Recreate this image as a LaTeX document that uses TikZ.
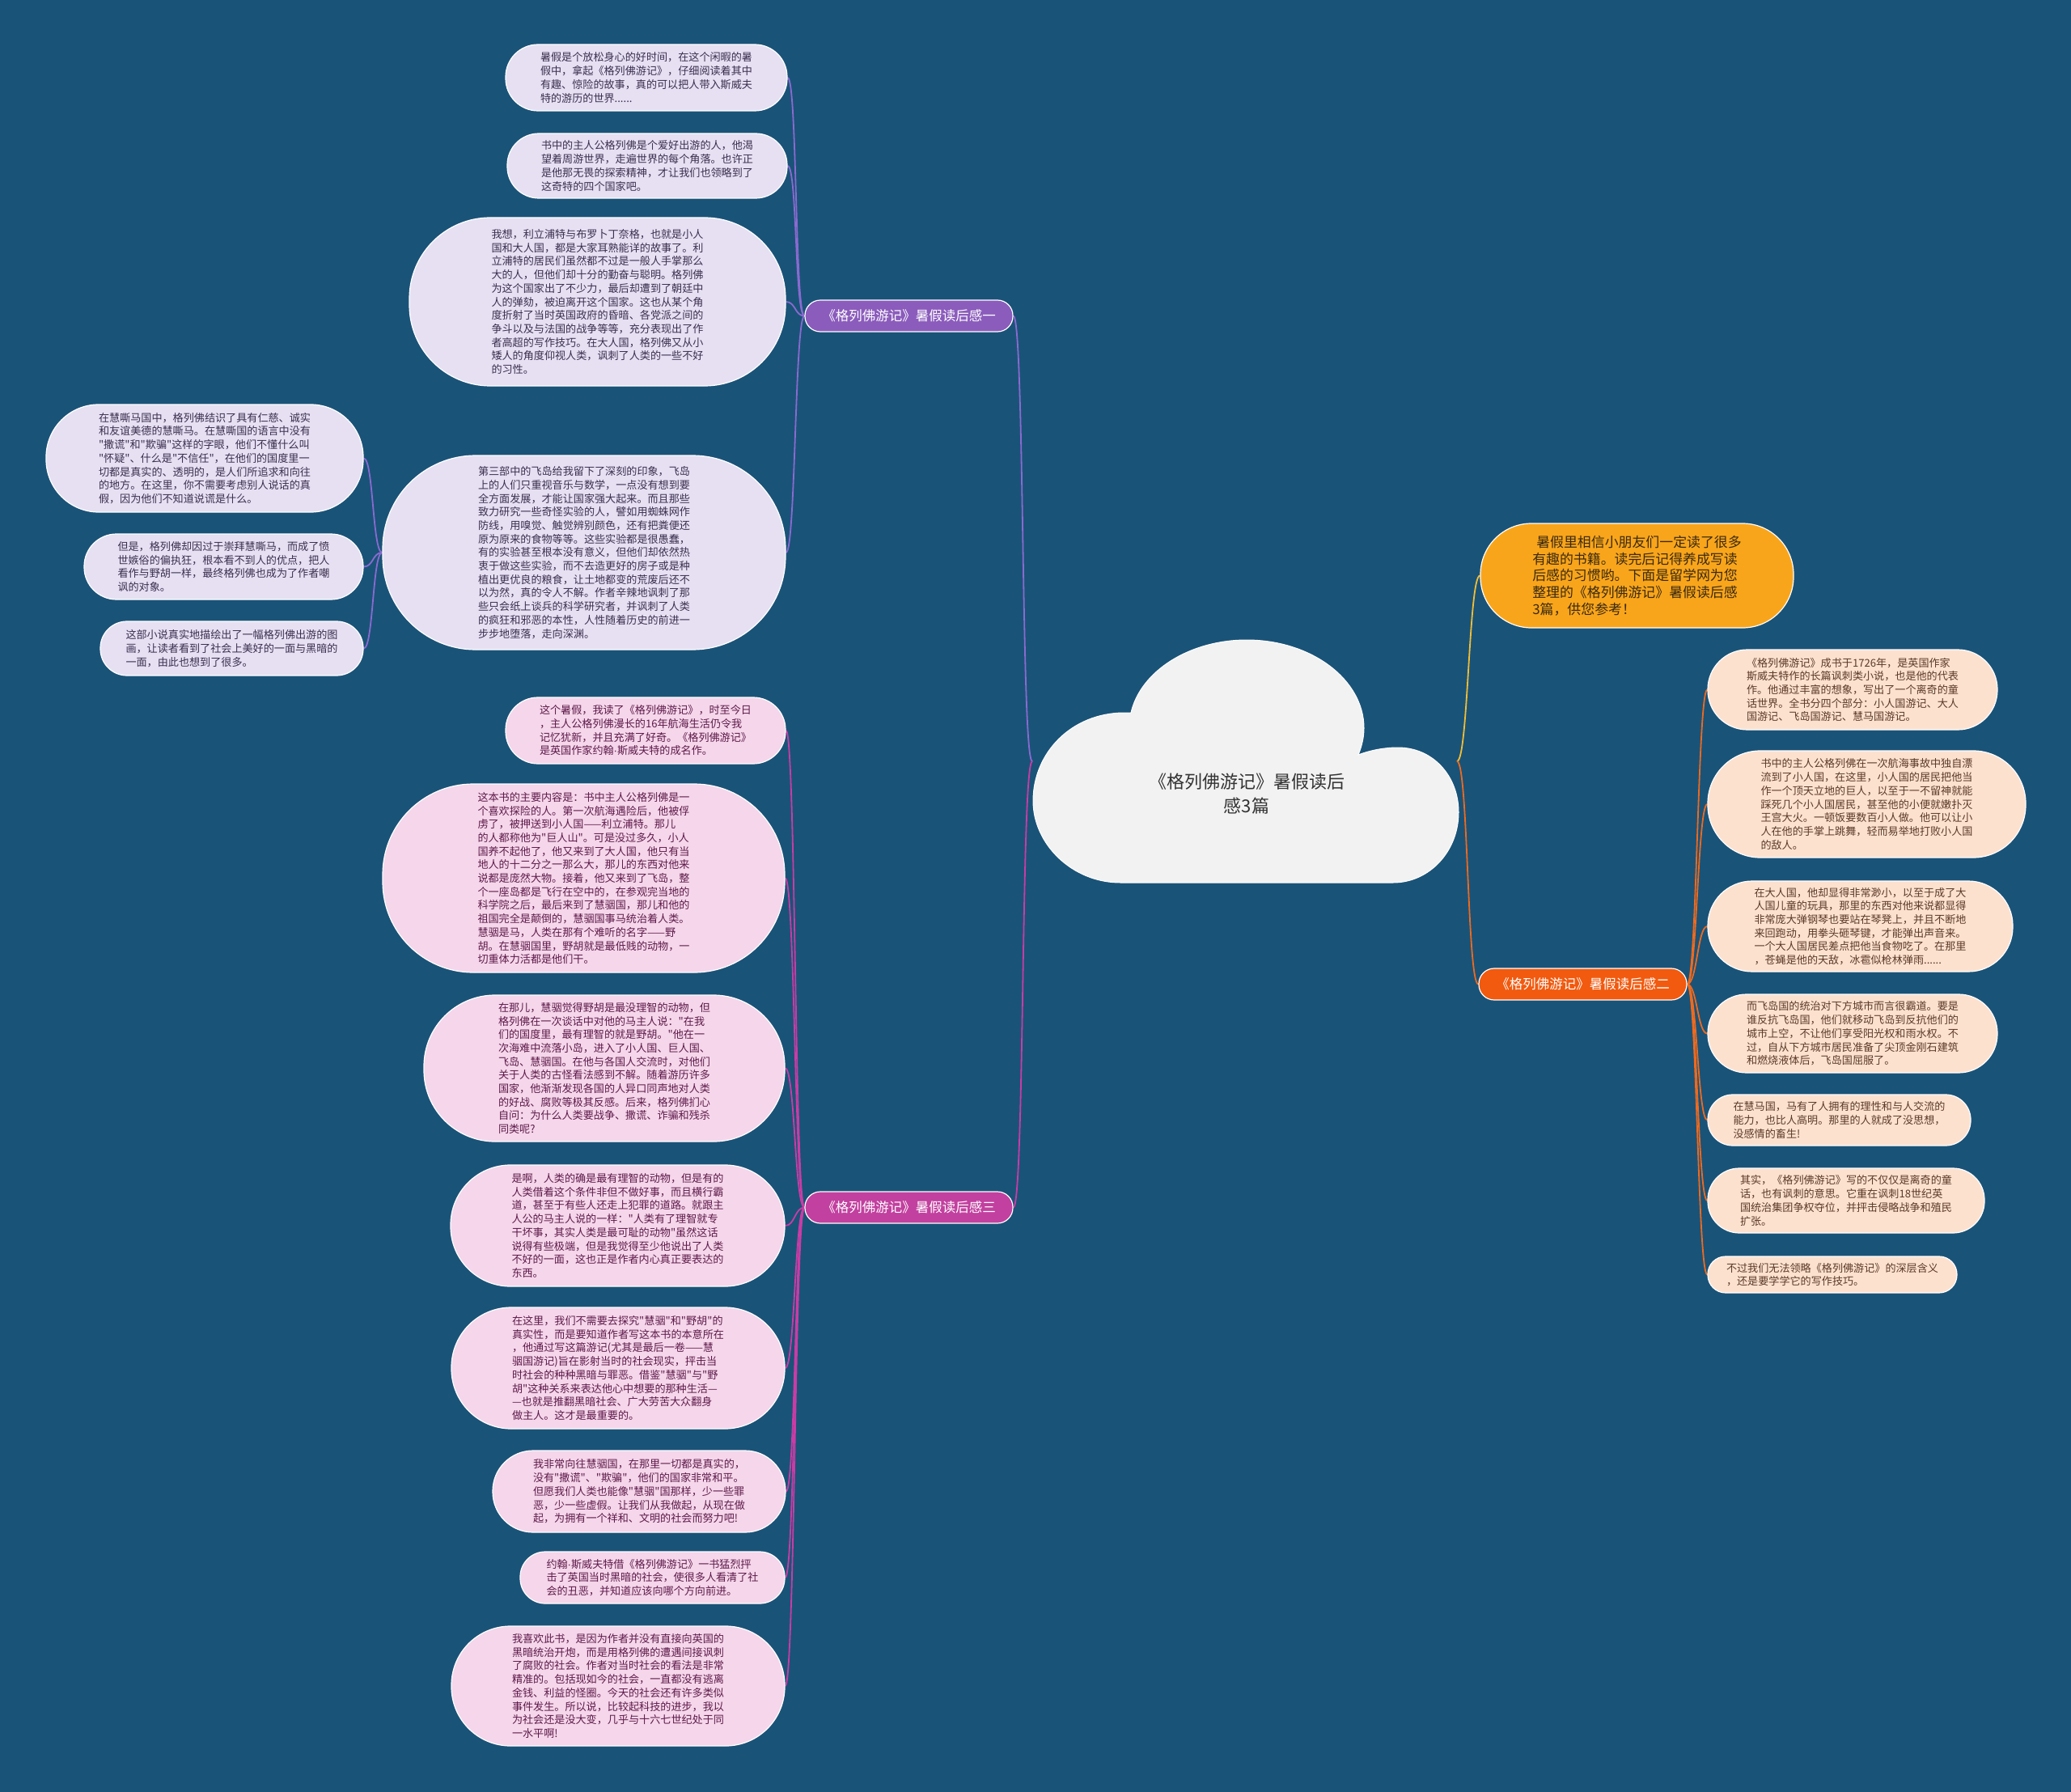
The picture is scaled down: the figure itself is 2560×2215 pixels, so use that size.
\documentclass[tikz,border=0pt]{standalone}
\usepackage{fontspec}
\setmainfont{Noto Sans CJK SC}[Ligatures=TeXOff]
\newfontfamily\latinf{Liberation Sans}
\newcommand\mdot{{\latinf ·}}
\usetikzlibrary{calc}
\definecolor{bgc}{HTML}{1A5378}
\definecolor{fillP}{HTML}{E6E0F2}
\definecolor{fillM}{HTML}{F5D6EA}
\definecolor{fillO}{HTML}{FDE1CF}
\definecolor{txtP}{HTML}{3B2F4F}
\definecolor{txtM}{HTML}{5E1A4A}
\definecolor{txtO}{HTML}{5B3A29}
\definecolor{brP}{HTML}{8B5CBC}
\definecolor{brM}{HTML}{C2409F}
\definecolor{brO}{HTML}{F15A0F}
\definecolor{introc}{HTML}{F9A51B}
\definecolor{introtxt}{HTML}{3A2A10}
\definecolor{lnP}{HTML}{8A6AD0}
\definecolor{lnM}{HTML}{C93CA6}
\definecolor{lnO}{HTML}{EE6A1E}
\definecolor{lnY}{HTML}{F2BE35}
\definecolor{cloudc}{HTML}{F2F2F2}
\definecolor{roottxt}{HTML}{333333}
\pgfdeclarelayer{back}
\pgfsetlayers{back,main}
\newcommand\mmleaf[8]{\node[#1,minimum width=#5,minimum height=#6,rounded corners=#7] (#2) at (#3,#4) {#8};}
\begin{document}
\begin{tikzpicture}[x=1pt,y=-1pt,
 leaf/.style={draw=white,line width=1.2,align=left,inner sep=0pt,font=\fontsize{13.1}{16.7}\selectfont},
 leafP/.style={leaf,fill=fillP,text=txtP},
 leafM/.style={leaf,fill=fillM,text=txtM},
 leafO/.style={leaf,fill=fillO,text=txtO},
 branch/.style={draw=white,line width=1.2,text=white,inner sep=0pt,minimum width=257,minimum height=39,rounded corners=19,font=\fontsize{16.5}{20}\selectfont},
 conn/.style={line width=1.8},
]
\begin{pgfonlayer}{back}
\fill[bgc] (0,0) rectangle (2560,2215);
\end{pgfonlayer}
\useasboundingbox (0,0) rectangle (2560,2215);

% cloud
\filldraw[fill=cloudc,draw=white,line width=1]
 (1385,1091) .. controls (1325,1091) and (1277,1043) .. (1277,990)
 .. controls (1277,930) and (1325,881) .. (1390,881)
 -- (1398,881)
 .. controls (1410,829) and (1471,791) .. (1541,791)
 .. controls (1621,791) and (1686,840) .. (1686,900)
 .. controls (1686,911) and (1683.5,922) .. (1679,933)
 .. controls (1695,927) and (1712,924) .. (1728,924)
 .. controls (1772,924) and (1803,960) .. (1803,1004)
 .. controls (1803,1052) and (1767,1091) .. (1722,1091)
 -- cycle;
\node[align=center,text=roottxt,font=\fontsize{22}{29.6}\selectfont] (root) at (1541,981) {《格列佛游记》暑假读后\\感3篇};
\coordinate (rootL) at (1276,941);
\coordinate (rootR) at (1801,941);

% branches
\node[branch,fill=brP] (b1) at (1123.5,390.5) {《格列佛游记》暑假读后感一};
\node[branch,fill=brM] (b3) at (1123.5,1492.5) {《格列佛游记》暑假读后感三};
\node[branch,fill=brO] (b2) at (1956.5,1216.5) {《格列佛游记》暑假读后感二};
\node[draw=white,line width=1.2,fill=introc,text=introtxt,align=left,inner sep=0pt,minimum width=387,minimum height=129,rounded corners=63,font=\fontsize{16.9}{20.7}\selectfont] (intro) at (2023.5,711.5) {\hspace*{5pt}暑假里相信小朋友们一定读了很多\\有趣的书籍。读完后记得养成写读\\后感的习惯哟。下面是留学网为您\\整理的《格列佛游记》暑假读后感\\3篇，供您参考！};

% branch 1 leaves
\mmleaf{leafP}{p1}{799}{96}{348}{82}{40}{暑假是个放松身心的好时间，在这个闲暇的暑\\假中，拿起《格列佛游记》，仔细阅读着其中\\有趣、惊险的故事，真的可以把人带入斯威夫\\特的游历的世界......}
\mmleaf{leafP}{p2}{800}{205}{346}{80}{39}{书中的主人公格列佛是个爱好出游的人，他渴\\望着周游世界，走遍世界的每个角落。也许正\\是他那无畏的探索精神，才让我们也领略到了\\这奇特的四个国家吧。}
\mmleaf{leafP}{p3}{738.5}{373}{465}{208}{100}{我想，利立浦特与布罗卜丁奈格，也就是小人\\国和大人国，都是大家耳熟能详的故事了。利\\立浦特的居民们虽然都不过是一般人手掌那么\\大的人，但他们却十分的勤奋与聪明。格列佛\\为这个国家出了不少力，最后却遭到了朝廷中\\人的弹劾，被迫离开这个国家。这也从某个角\\度折射了当时英国政府的昏暗、各党派之间的\\争斗以及与法国的战争等等，充分表现出了作\\者高超的写作技巧。在大人国，格列佛又从小\\矮人的角度仰视人类，讽刺了人类的一些不好\\的习性。}
\mmleaf{leafP}{p4}{722}{683}{498}{240}{115}{第三部中的飞岛给我留下了深刻的印象，飞岛\\上的人们只重视音乐与数学，一点没有想到要\\全方面发展，才能让国家强大起来。而且那些\\致力研究一些奇怪实验的人，譬如用蜘蛛网作\\防线，用嗅觉、触觉辨别颜色，还有把粪便还\\原为原来的食物等等。这些实验都是很愚蠢，\\有的实验甚至根本没有意义，但他们却依然热\\衷于做这些实验，而不去造更好的房子或是种\\植出更优良的粮食，让土地都变的荒废后还不\\以为然，真的令人不解。作者辛辣地讽刺了那\\些只会纸上谈兵的科学研究者，并讽刺了人类\\的疯狂和邪恶的本性，人性随着历史的前进一\\步步地堕落，走向深渊。}
\mmleaf{leafP}{pA}{253}{566.5}{392}{133}{65}{在慧嘶马国中，格列佛结识了具有仁慈、诚实\\和友谊美德的慧嘶马。在慧嘶国的语言中没有\\"撒谎"和"欺骗"这样的字眼，他们不懂什么叫\\"怀疑"、什么是"不信任"，在他们的国度里一\\切都是真实的、透明的，是人们所追求和向往\\的地方。在这里，你不需要考虑别人说话的真\\假，因为他们不知道说谎是什么。}
\mmleaf{leafP}{pB}{276.5}{700.5}{345}{81}{40}{但是，格列佛却因过于崇拜慧嘶马，而成了愤\\世嫉俗的偏执狂，根本看不到人的优点，把人\\看作与野胡一样，最终格列佛也成为了作者嘲\\讽的对象。}
\mmleaf{leafP}{pC}{286.5}{801.5}{325}{67}{33}{这部小说真实地描绘出了一幅格列佛出游的图\\画，让读者看到了社会上美好的一面与黑暗的\\一面，由此也想到了很多。}

% branch 3 leaves
\mmleaf{leafM}{m1}{798}{903}{346}{82}{40}{这个暑假，我读了《格列佛游记》，时至今日\\，主人公格列佛漫长的16年航海生活仍令我\\记忆犹新，并且充满了好奇。《格列佛游记》\\是英国作家约翰\mdot 斯威夫特的成名作。}
\mmleaf{leafM}{m2}{721.5}{1085.5}{497}{233}{112}{这本书的主要内容是：书中主人公格列佛是一\\个喜欢探险的人。第一次航海遇险后，他被俘\\虏了，被押送到小人国——利立浦特。那儿\\的人都称他为"巨人山"。可是没过多久，小人\\国养不起他了，他又来到了大人国，他只有当\\地人的十二分之一那么大，那儿的东西对他来\\说都是庞然大物。接着，他又来到了飞岛，整\\个一座岛都是飞行在空中的，在参观完当地的\\科学院之后，最后来到了慧骃国，那儿和他的\\祖国完全是颠倒的，慧骃国事马统治着人类。\\慧骃是马，人类在那有个难听的名字——野\\胡。在慧骃国里，野胡就是最低贱的动物，一\\切重体力活都是他们干。}
\mmleaf{leafM}{m3}{747}{1320.5}{446}{181}{88}{在那儿，慧骃觉得野胡是最没理智的动物，但\\格列佛在一次谈话中对他的马主人说："在我\\们的国度里，最有理智的就是野胡。"他在一\\次海难中流落小岛，进入了小人国、巨人国、\\飞岛、慧骃国。在他与各国人交流时，对他们\\关于人类的古怪看法感到不解。随着游历许多\\国家，他渐渐发现各国的人异口同声地对人类\\的好战、腐败等极其反感。后来，格列佛扪心\\自问：为什么人类要战争、撒谎、诈骗和残杀\\同类呢?}
\mmleaf{leafM}{m4}{763.5}{1515}{413}{150}{74}{是啊，人类的确是最有理智的动物，但是有的\\人类借着这个条件非但不做好事，而且横行霸\\道，甚至于有些人还走上犯罪的道路。就跟主\\人公的马主人说的一样："人类有了理智就专\\干坏事，其实人类是最可耻的动物"虽然这话\\说得有些极端，但是我觉得至少他说出了人类\\不好的一面，这也正是作者内心真正要表达的\\东西。}
\mmleaf{leafM}{m5}{764}{1691}{412}{150}{74}{在这里，我们不需要去探究"慧骃"和"野胡"的\\真实性，而是要知道作者写这本书的本意所在\\，他通过写这篇游记(尤其是最后一卷——慧\\骃国游记)旨在影射当时的社会现实，抨击当\\时社会的种种黑暗与罪恶。借鉴"慧骃"与"野\\胡"这种关系来表达他心中想要的那种生活—\\—也就是推翻黑暗社会、广大劳苦大众翻身\\做主人。这才是最重要的。}
\mmleaf{leafM}{m6}{790}{1843.5}{362}{101}{50}{我非常向往慧骃国，在那里一切都是真实的，\\没有"撒谎"、"欺骗"，他们的国家非常和平。\\但愿我们人类也能像"慧骃"国那样，少一些罪\\恶，少一些虚假。让我们从我做起，从现在做\\起，为拥有一个祥和、文明的社会而努力吧!}
\mmleaf{leafM}{m7}{806.5}{1950}{327}{64}{31}{约翰\mdot 斯威夫特借《格列佛游记》一书猛烈抨\\击了英国当时黑暗的社会，使很多人看清了社\\会的丑恶，并知道应该向哪个方向前进。}
\mmleaf{leafM}{m8}{764}{2084}{412}{148}{73}{我喜欢此书，是因为作者并没有直接向英国的\\黑暗统治开炮，而是用格列佛的遭遇间接讽刺\\了腐败的社会。作者对当时社会的看法是非常\\精准的。包括现如今的社会，一直都没有逃离\\金钱、利益的怪圈。今天的社会还有许多类似\\事件发生。所以说，比较起科技的进步，我以\\为社会还是没大变，几乎与十六七世纪处于同\\一水平啊!}

% branch 2 leaves
\mmleaf{leafO}{o1}{2290}{852.5}{358}{99}{49}{《格列佛游记》成书于1726年，是英国作家\\斯威夫特作的长篇讽刺类小说，也是他的代表\\作。他通过丰富的想象，写出了一个离奇的童\\话世界。全书分四个部分：小人国游记、大人\\国游记、飞岛国游记、慧马国游记。}
\mmleaf{leafO}{o2}{2307.5}{994}{393}{132}{65}{书中的主人公格列佛在一次航海事故中独自漂\\流到了小人国，在这里，小人国的居民把他当\\作一个顶天立地的巨人，以至于一不留神就能\\踩死几个小人国居民，甚至他的小便就嫩扑灭\\王宫大火。一顿饭要数百小人做。他可以让小\\人在他的手掌上跳舞，轻而易举地打败小人国\\的敌人。}
\mmleaf{leafO}{o3}{2299.5}{1145}{377}{112}{55}{在大人国，他却显得非常渺小，以至于成了大\\人国儿童的玩具，那里的东西对他来说都显得\\非常庞大弹钢琴也要站在琴凳上，并且不断地\\来回跑动，用拳头砸琴键，才能弹出声音来。\\一个大人国居民差点把他当食物吃了。在那里\\，苍蝇是他的天敌，冰雹似枪林弹雨......}
\mmleaf{leafO}{o4}{2290}{1277.5}{358}{97}{48}{而飞岛国的统治对下方城市而言很霸道。要是\\谁反抗飞岛国，他们就移动飞岛到反抗他们的\\城市上空，不让他们享受阳光权和雨水权。不\\过，自从下方城市居民准备了尖顶金刚石建筑\\和燃烧液体后，飞岛国屈服了。}
\mmleaf{leafO}{o5}{2273.5}{1384.5}{325}{63}{31}{在慧马国，马有了人拥有的理性和与人交流的\\能力，也比人高明。那里的人就成了没思想，\\没感情的畜生!}
\mmleaf{leafO}{o6}{2282}{1484}{342}{80}{39}{其实，《格列佛游记》写的不仅仅是离奇的童\\话，也有讽刺的意思。它重在讽刺18世纪英\\国统治集团争权夺位，并抨击侵略战争和殖民\\扩张。}
\mmleaf{leafO}{o7}{2265}{1575.5}{308}{45}{22}{不过我们无法领略《格列佛游记》的深层含义\\，还是要学学它的写作技巧。}

% connectors
\begin{pgfonlayer}{back}
\draw[conn,lnP] (rootL) .. controls +(-14,0) and +(14,0) .. (b1.east);
\draw[conn,lnM] (rootL) .. controls +(-14,0) and +(14,0) .. (b3.east);
\draw[conn,lnY] (rootR) .. controls +(14,0) and +(-14,0) .. (intro.west);
\draw[conn,lnO] (rootR) .. controls +(14,0) and +(-14,0) .. (b2.west);
\foreach \n in {p1,p2,p3,p4}{\draw[conn,lnP] (b1.west) .. controls +(-12,0) and +(12,0) .. (\n.east);}
\foreach \n in {pA,pB,pC}{\draw[conn,lnP] (p4.west) .. controls +(-12,0) and +(12,0) .. (\n.east);}
\foreach \n in {m1,m2,m3,m4,m5,m6,m7,m8}{\draw[conn,lnM] (b3.west) .. controls +(-12,0) and +(12,0) .. (\n.east);}
\foreach \n in {o1,o2,o3,o4,o5,o6,o7}{\draw[conn,lnO] (b2.east) .. controls +(12,0) and +(-12,0) .. (\n.west);}
\end{pgfonlayer}
\end{tikzpicture}
\end{document}
